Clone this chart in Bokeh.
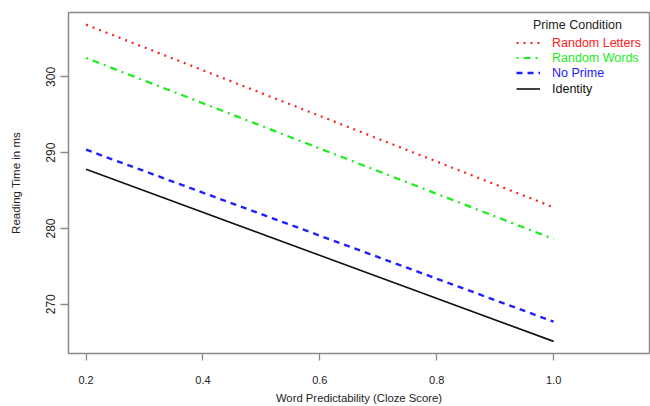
from bokeh.plotting import figure
from bokeh.models import Range1d, FixedTicker, Legend, LegendItem, Label
from bokeh.embed import file_html
from bokeh.resources import INLINE

# Data
x_vals = [0.2, 1.0]
random_letters = [306.9, 282.8]
random_words = [302.5, 278.6]
no_prime = [290.4, 267.7]
identity = [287.8, 265.1]

series_names = ["Random Letters", "Random Words", "No Prime", "Identity"]
series_values = [random_letters, random_words, no_prime, identity]
series_colors = ["#FF2020", "#1AEE1A", "#2020FF", "#111111"]
series_dash = ["2 5", "2 5 7 5", "6 5", "solid"]
series_width = [2.2, 2.2, 2.4, 1.6]

x_ticks = [0.2, 0.4, 0.6, 0.8, 1.0]
x_tick_labels = ["0.2", "0.4", "0.6", "0.8", "1.0"]
y_ticks = [270, 280, 290, 300]

FONT = "Liberation Sans"

p = figure(width=650, height=406, output_backend="svg", toolbar_location=None,
           x_range=Range1d(0.170, 1.164), y_range=Range1d(263.5, 308.5),
           min_border_left=68, min_border_right=1, min_border_top=12, min_border_bottom=52)
p.xgrid.visible = False
p.ygrid.visible = False
p.outline_line_color = "#8a8a8a"
p.outline_line_width = 1.5
p.background_fill_color = "white"
p.border_fill_color = "white"

renderers = []
for name, vals, col, dash, w in zip(series_names, series_values, series_colors, series_dash, series_width):
    r = p.line(x_vals, vals, line_color=col, line_width=w, line_dash=dash)
    renderers.append(r)

# Axes
xa = p.xaxis[0]
xa.ticker = FixedTicker(ticks=x_ticks)
xa.major_label_overrides = {t: l for t, l in zip(x_ticks, x_tick_labels)}
xa.axis_line_color = None
xa.major_tick_line_color = "#8a8a8a"
xa.major_tick_line_width = 1.3
xa.major_tick_out = 7
xa.major_tick_in = 0
xa.minor_tick_line_color = None
xa.major_label_standoff = 15
xa.major_label_text_font = FONT
xa.major_label_text_font_size = "11px"
xa.major_label_text_color = "#222222"
xa.axis_label = "Word Predictability (Cloze Score)"
xa.axis_label_text_font = FONT
xa.axis_label_text_font_size = "11.3px"
xa.axis_label_text_font_style = "normal"
xa.axis_label_text_color = "#222222"
xa.axis_label_standoff = 5

ya = p.yaxis[0]
ya.ticker = FixedTicker(ticks=y_ticks)
ya.axis_line_color = None
ya.major_tick_line_color = "#8a8a8a"
ya.major_tick_line_width = 1.3
ya.major_tick_out = 8
ya.major_tick_in = 0
ya.minor_tick_line_color = None
ya.major_label_orientation = "vertical"
ya.major_label_standoff = 5
ya.major_label_text_font = FONT
ya.major_label_text_font_size = "12px"
ya.major_label_text_color = "#222222"
ya.axis_label = "Reading Time in ms"
ya.axis_label_text_font = FONT
ya.axis_label_text_font_size = "11.5px"
ya.axis_label_text_font_style = "normal"
ya.axis_label_text_color = "#222222"
ya.axis_label_standoff = 22

# Legend: one legend per item so that each label has its own colour
row_bottoms = [303, 288, 273, 257]
for name, r, col, yb in zip(series_names, renderers, series_colors, row_bottoms):
    lg = Legend(items=[LegendItem(label=name, renderers=[r])],
                location=(448, yb), padding=0, margin=0, spacing=0,
                glyph_width=24, glyph_height=15, label_height=15,
                label_standoff=12, border_line_color=None,
                background_fill_color=None, background_fill_alpha=0,
                label_text_font=FONT, label_text_font_size="12.5px",
                label_text_color=col)
    p.add_layout(lg, "center")

title = Label(x=509, y=329, x_units="screen", y_units="screen", text="Prime Condition",
              text_align="center", text_baseline="middle", text_font=FONT,
              text_font_size="12.5px", text_color="#222222")
p.add_layout(title)

open("out.html", "w").write(file_html(p, INLINE))
